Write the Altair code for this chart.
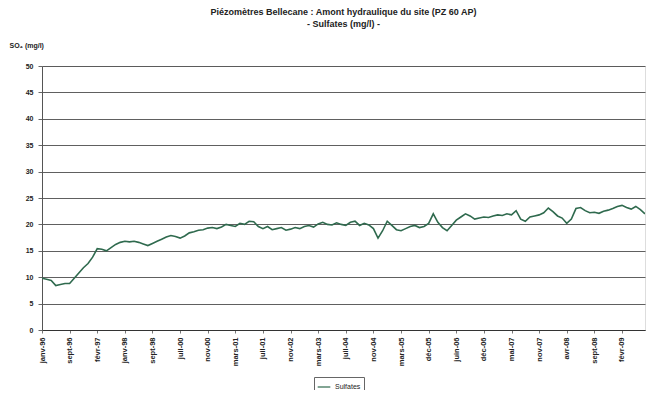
import altair as alt
import pandas as pd

title_lines = ["Piézomètres Bellecane : Amont hydraulique du site (PZ 60 AP)", "- Sulfates (mg/l) -"]
y_title = "SO\u2084 (mg/l)"
series_name = "Sulfates"

tick_labels = ["janv-96", "sept-96", "févr-97", "janv-98", "sept-98", "juil-00",
               "nov-00", "mars-01", "juil-01", "nov-02", "mars-03", "juil-04",
               "nov-04", "mars-05", "déc-05", "juin-06", "déc-06", "mai-07",
               "nov-07", "avr-08", "sept-08", "févr-09"]
label_every = 6

values = [9.8, 9.6, 9.4, 8.4, 8.6, 8.8, 8.8, 9.8, 10.8, 11.8,
          12.6, 13.8, 15.4, 15.3, 15.0, 15.6, 16.2, 16.6, 16.8, 16.7,
          16.8, 16.6, 16.3, 16.0, 16.4, 16.8, 17.2, 17.6, 17.9, 17.7,
          17.4, 17.8, 18.4, 18.6, 18.9, 19.0, 19.3, 19.4, 19.2, 19.5,
          20.0, 19.8, 19.6, 20.2, 20.0, 20.6, 20.5, 19.6, 19.2, 19.6,
          19.0, 19.2, 19.4, 18.9, 19.1, 19.4, 19.2, 19.6, 19.8, 19.5,
          20.1, 20.4, 20.0, 19.9, 20.3, 20.0, 19.8, 20.4, 20.6, 19.8,
          20.2, 19.9, 19.2, 17.4, 18.8, 20.6, 19.8, 19.0, 18.8, 19.2,
          19.6, 19.8, 19.4, 19.6, 20.2, 22.0, 20.4, 19.4, 18.8, 19.8,
          20.8, 21.4, 22.0, 21.6, 21.0, 21.2, 21.4, 21.3, 21.6, 21.8,
          21.7, 22.0, 21.8, 22.6, 21.0, 20.6, 21.4, 21.6, 21.8, 22.2,
          23.1, 22.4, 21.6, 21.2, 20.2, 21.0, 23.0, 23.2, 22.6, 22.2,
          22.3, 22.1, 22.5, 22.7, 23.0, 23.4, 23.6, 23.2, 22.9, 23.4,
          22.8, 22.0]

df = pd.DataFrame({"sample": list(range(len(values))), "value": values,
                   "serie": [series_name] * len(values)})

tick_positions = [i * label_every for i in range(len(tick_labels))]
label_js = "[" + ",".join("'" + t + "'" for t in tick_labels) + "]"

FONT = "Liberation Sans"

chart = alt.Chart(df).mark_line(strokeWidth=1.6, clip=True).encode(
    x=alt.X("sample:Q",
            scale=alt.Scale(domain=[0, len(values) - 1], nice=False, zero=False),
            axis=alt.Axis(values=tick_positions, title=None, grid=False,
                          labelExpr=label_js + "[round(datum.value / %d)]" % label_every,
                          labelAngle=-90, labelFontSize=7.5, labelFontWeight="bold",
                          labelColor="#222", labelFont=FONT, labelPadding=4,
                          domainColor="#333", tickColor="#777", tickSize=3)),
    y=alt.Y("value:Q",
            scale=alt.Scale(domain=[0, 50], nice=False),
            axis=alt.Axis(values=list(range(0, 51, 5)), title=y_title,
                          titleAngle=0, titleAlign="left", titleBaseline="bottom",
                          titleX=-33, titleY=-18, titleFontSize=7, titleFontWeight="bold",
                          titleFont=FONT, titleColor="#222",
                          labelFontSize=7, labelColor="#222", labelFont=FONT,
                          labelFontWeight="bold", labelPadding=5,
                          gridColor="#444", gridWidth=1, gridOpacity=0.85,
                          domainColor="#555", tickSize=4, tickColor="#666")),
    color=alt.Color("serie:N", scale=alt.Scale(range=["#2f6a4e"]),
                    legend=alt.Legend(title=None, orient="none", legendX=272, legendY=311,
                                      symbolType="stroke", symbolSize=160,
                                      symbolStrokeWidth=1.2, labelFontSize=7,
                                      labelFont=FONT, labelColor="#222",
                                      strokeColor="#666", padding=3))
).properties(
    width=603, height=264,
    title=alt.TitleParams(text=title_lines, fontSize=9, fontWeight="bold", font=FONT,
                          color="#222", anchor="middle", offset=12, lineHeight=12),
    autosize=alt.AutoSizeParams(type="none"),
    padding={"left": 34, "top": 58, "right": 3, "bottom": 60}
).configure_view(stroke="#999", strokeWidth=1).configure(background="white")

chart.save("out.html", embed_options={"renderer": "svg", "actions": False})
